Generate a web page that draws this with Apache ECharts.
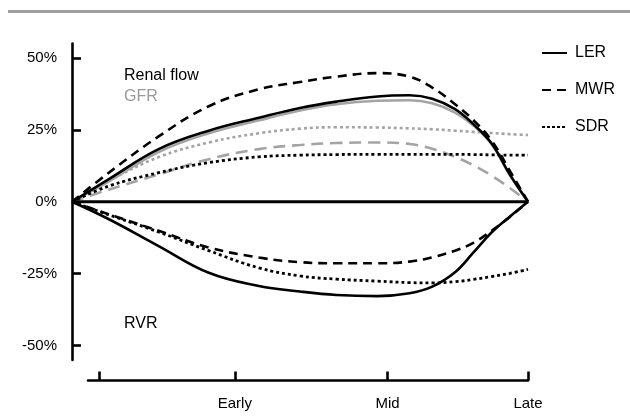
<!DOCTYPE html>
<html><head><meta charset="utf-8">
<script src="https://cdn.jsdelivr.net/npm/echarts@6/dist/echarts.min.js"></script>
<style>html,body{margin:0;padding:0;background:#fff}#c{width:630px;height:416px}</style>
</head><body><div id="c"></div>
<script>
// shared x positions (0 = start, 100 = Late)
const xs = [0, 8, 19, 30, 41, 50, 58, 67, 74, 79, 84, 88, 92, 96, 100];
// Renal flow (black)
const flowLER = [0, 7.8, 18.3, 24.7, 29.2, 32.6, 34.8, 36.6, 37.0, 35.8, 32.2, 27.0, 20.3, 9.5, 0];
const flowMWR = [0, 10, 22.7, 33.2, 39.1, 41.6, 43.5, 44.7, 43.5, 39.7, 33.9, 28.4, 21.3, 10.8, 0];
const flowSDR = [0, 5.4, 10.1, 13.6, 15.6, 16.2, 16.4, 16.5, 16.5, 16.5, 16.5, 16.4, 16.3, 16.2, 16.2];
// GFR (grey)
const gfrLER = [0, 7, 17.3, 23.8, 28.3, 31.7, 33.9, 35.1, 35.3, 34.2, 31, 26.5, 20, 9.3, 0];
const gfrMWR = [0, 4.2, 9.5, 14.8, 18.3, 19.7, 20.4, 20.6, 20.1, 18.4, 15.6, 12.7, 9.1, 4.8, 0];
const gfrSDR = [0, 7.2, 15.5, 20.6, 23.8, 25.4, 25.9, 25.8, 25.5, 25.2, 24.7, 24.3, 23.9, 23.5, 23.2];
// RVR (black, negative)
const rvrLER = [0, -6, -15.4, -24.7, -29.3, -31.2, -32.4, -32.8, -31.8, -29.5, -24.5, -17.7, -10.7, -5.2, 0];
const rvrMWR = [0, -4.3, -10.1, -15.9, -19.4, -21, -21.4, -21.4, -20.8, -19.3, -17, -14.3, -10.1, -5.3, 0];
const rvrSDR = [0, -4.5, -10.5, -17, -23, -25.8, -26.9, -27.6, -28.1, -28.2, -27.8, -27, -26, -24.9, -23.5];
const baseline = [0, 0];
const baselineX = [0, 100];
// axes
const yTicks = [-50, -25, 0, 25, 50];
const xTickPos = [6, 35.7, 69.2, 100];
const xTickLabels = ['', 'Early', 'Mid', 'Late'];
const legendNames = ['LER', 'MWR', 'SDR'];

const FONT = '"Liberation Sans", Arial, sans-serif';
const GREY = '#a4a4a4';
const styles = {
  LER: { type: 'solid', width: 2.6 },
  MWR: { type: [9, 6], width: 2.6 },
  SDR: { type: [3, 3], width: 2.8 }
};

function mk(name, vals, color, style, width) {
  return {
    name: name, type: 'line', xAxisIndex: 0, yAxisIndex: 0,
    data: xs.map((x, i) => [x, vals[i]]),
    symbol: 'none', smooth: 0.4, silent: true,
    lineStyle: { color: color, type: style.type, width: width || style.width, cap: 'butt' }
  };
}

const chart = echarts.init(document.getElementById('c'), null, { renderer: 'canvas' });
chart.setOption({
  animation: false,
  backgroundColor: '#fff',
  textStyle: { fontFamily: FONT },
  grid: [
    { left: 72, right: 102, top: 43.5, height: 316.5 },
    { left: 88, right: 102, top: 379.5, height: 1 }
  ],
  xAxis: [
    { gridIndex: 0, type: 'value', min: 0, max: 100, show: false },
    {
      gridIndex: 1, type: 'value', min: 3.5, max: 100, position: 'bottom',
      axisLine: { show: true, lineStyle: { color: '#000', width: 2.6 } },
      axisTick: { show: true, inside: true, length: 9, customValues: xTickPos, lineStyle: { color: '#000', width: 2.6 } },
      axisLabel: {
        show: true, customValues: xTickPos.slice(1), margin: 16, fontSize: 15, color: '#000', fontFamily: FONT,
        formatter: v => { let b = 0; xTickPos.forEach((p, i) => { if (Math.abs(p - v) < Math.abs(xTickPos[b] - v)) b = i; }); return xTickLabels[b]; }
      },
      splitLine: { show: false }
    }
  ],
  yAxis: [
    {
      gridIndex: 0, type: 'value', min: -55, max: 55,
      axisLine: { show: true, lineStyle: { color: '#000', width: 2.6 } },
      axisTick: { show: true, inside: true, length: 9, customValues: yTicks, lineStyle: { color: '#000', width: 2.6 } },
      axisLabel: { customValues: yTicks, formatter: v => v + '%', margin: 15, fontSize: 15, color: '#000', fontFamily: FONT },
      splitLine: { show: false }
    },
    { gridIndex: 1, type: 'value', show: false }
  ],
  legend: {
    data: legendNames, orient: 'vertical', left: 541, top: 45, padding: 0,
    itemWidth: 25, itemHeight: 14, itemGap: 21,
    itemStyle: { opacity: 0 },
    textStyle: { fontSize: 16, color: '#000', fontFamily: FONT, padding: [0, 0, 0, 3] }
  },
  graphic: [
    { type: 'rect', shape: { x: 8, y: 10, width: 622, height: 3 }, style: { fill: '#a0a0a0' }, silent: true },
    { type: 'text', left: 124, top: 68, style: { text: 'Renal flow', fontSize: 16, fill: '#000', fontFamily: FONT } },
    { type: 'text', left: 124, top: 89, style: { text: 'GFR', fontSize: 16, fill: '#999', fontFamily: FONT } },
    { type: 'text', left: 124, top: 316, style: { text: 'RVR', fontSize: 16, fill: '#000', fontFamily: FONT } }
  ],
  series: [
    // legend-only entries
    { name: 'LER', type: 'line', data: [], symbol: 'none', itemStyle: { color: '#000' }, lineStyle: { color: '#000', type: 'solid', width: 3 } },
    { name: 'MWR', type: 'line', data: [], symbol: 'none', itemStyle: { color: '#000' }, lineStyle: { color: '#000', type: [9, 6], width: 3 } },
    { name: 'SDR', type: 'line', data: [], symbol: 'none', itemStyle: { color: '#000' }, lineStyle: { color: '#000', type: [3, 2], width: 3 } },
    mk('GFR SDR', gfrSDR, GREY, styles.SDR, 2.6),
    mk('GFR MWR', gfrMWR, GREY, { type: [12, 7] }, 2.6),
    mk('GFR LER', gfrLER, GREY, styles.LER),
    mk('Flow SDR', flowSDR, '#000', styles.SDR),
    mk('Flow MWR', flowMWR, '#000', styles.MWR),
    mk('Flow LER', flowLER, '#000', styles.LER),
    mk('RVR SDR', rvrSDR, '#000', styles.SDR),
    mk('RVR MWR', rvrMWR, '#000', styles.MWR),
    mk('RVR LER', rvrLER, '#000', styles.LER),
    {
      name: 'Baseline', type: 'line', xAxisIndex: 0, yAxisIndex: 0, symbol: 'none', silent: true,
      data: baselineX.map((x, i) => [x, baseline[i]]),
      lineStyle: { color: '#000', width: 3 }
    }
  ]
});
</script>
</body></html>
